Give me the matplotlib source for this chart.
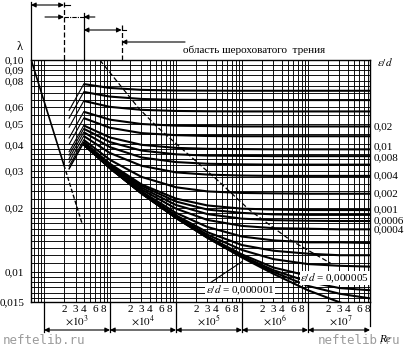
import matplotlib.pyplot as plt
from matplotlib import transforms
from matplotlib.ticker import NullLocator

plt.rcParams['font.family'] = ['Liberation Serif', 'DejaVu Serif']
plt.rcParams['mathtext.fontset'] = 'stix'

re_pts = [4e3, 1e4, 3e4, 1e5, 3e5, 1e6, 3e6, 1e7, 3e7, 9e7]

# friction factor lambda for each relative roughness e/d
lam_05 = [0.0770, 0.0738, 0.0723, 0.0718, 0.0717, 0.0716, 0.0716, 0.0716, 0.0716, 0.0716]
lam_04 = [0.0707, 0.0672, 0.0655, 0.0649, 0.0648, 0.0647, 0.0647, 0.0647, 0.0647, 0.0647]
lam_03 = [0.0641, 0.0601, 0.0582, 0.0575, 0.0573, 0.0572, 0.0572, 0.0572, 0.0572, 0.0572]
lam_02 = [0.0570, 0.0523, 0.0499, 0.0490, 0.0488, 0.0486, 0.0486, 0.0486, 0.0486, 0.0486]
lam_015 = [0.0532, 0.0479, 0.0452, 0.0442, 0.0438, 0.0437, 0.0437, 0.0437, 0.0437, 0.0437]
lam_01 = [0.0491, 0.0431, 0.0398, 0.0385, 0.0381, 0.0380, 0.0379, 0.0379, 0.0379, 0.0379]
lam_008 = [0.0474, 0.0410, 0.0374, 0.0359, 0.0354, 0.0353, 0.0352, 0.0352, 0.0352, 0.0352]
lam_006 = [0.0456, 0.0388, 0.0347, 0.0330, 0.0324, 0.0322, 0.0321, 0.0321, 0.0321, 0.0321]
lam_004 = [0.0438, 0.0364, 0.0317, 0.0295, 0.0288, 0.0285, 0.0284, 0.0284, 0.0284, 0.0284]
lam_002 = [0.0420, 0.0338, 0.0281, 0.0251, 0.0240, 0.0236, 0.0235, 0.0234, 0.0234, 0.0234]
lam_001 = [0.0410, 0.0324, 0.0259, 0.0222, 0.0206, 0.0199, 0.0197, 0.0196, 0.0196, 0.0196]
lam_0008 = [0.0407, 0.0321, 0.0255, 0.0215, 0.0197, 0.0190, 0.0187, 0.0186, 0.0186, 0.0186]
lam_0006 = [0.0405, 0.0318, 0.0250, 0.0207, 0.01875, 0.01785, 0.01756, 0.01745, 0.0174, 0.0174]
lam_0004 = [0.0402, 0.0315, 0.0245, 0.0199, 0.0176, 0.0165, 0.0161, 0.0160, 0.0159, 0.0159]
lam_0002 = [0.0401, 0.0312, 0.0240, 0.0190, 0.0163, 0.0147, 0.0141, 0.0138, 0.0138, 0.0137]
lam_0001 = [0.0400, 0.0311, 0.0237, 0.0185, 0.0154, 0.0134, 0.0126, 0.0122, 0.0120, 0.0120]
lam_00005 = [0.0400, 0.0310, 0.0236, 0.0183, 0.0150, 0.0127, 0.0115, 0.0109, 0.0107, 0.0106]
lam_00002 = [0.0399, 0.0309, 0.0235, 0.0181, 0.0147, 0.0121, 0.0105, 0.0096, 0.0092, 0.0091]
lam_00001 = [0.0399, 0.0309, 0.0235, 0.0180, 0.0146, 0.0119, 0.0102, 0.0090, 0.0084, 0.0082]
lam_000005 = [0.0399, 0.0309, 0.0235, 0.0180, 0.0145, 0.0118, 0.0100, 0.0086, 0.0079, 0.0075]
lam_000001 = [0.0399, 0.0309, 0.0235, 0.0180, 0.0145, 0.0117, 0.0098, 0.0082, 0.0072, 0.0065]

curves = [lam_05, lam_04, lam_03, lam_02, lam_015, lam_01, lam_008, lam_006, lam_004,
          lam_002, lam_001, lam_0008, lam_0006, lam_0004, lam_0002, lam_0001,
          lam_00005, lam_00002, lam_00001, lam_000005, lam_000001]

# transition strokes (Re 2400 -> 4000) for the rougher curves
trans_re = [2400, 4000]
trans_lo = [0.0579, 0.0532, 0.0482, 0.0429, 0.0400, 0.0369, 0.0356, 0.0343, 0.0329, 0.0316, 0.0308, 0.0306]

# laminar line 64/Re, solid then dashed continuation
lam_re = [635, 2000]
lam_lam = [0.1008, 0.0320]
lam_ext_re = [2000, 3800]
lam_ext_lam = [0.0320, 0.0168]

# boundary of the rough-friction zone
bnd_re = [7.0e3, 2.7e4, 5.2e4, 4.2e5, 1.3e6, 5.3e6, 2.2e7]
bnd_lam = [0.1, 0.0594, 0.0483, 0.0272, 0.0196, 0.0142, 0.0110]

# labels on the right (small vertical nudge in points so they don't collide)
side_labels = ['0,02', '0,01', '0,008', '0,004', '0,002', '0,001', '0,0006', '0,0004']
side_curves = [lam_02, lam_01, lam_008, lam_004, lam_002, lam_001, lam_0006, lam_0004]
side_nudge = [0, 2, -1, 0, 0, 0, 0, 0]

# y axis labels
y_ticks = [0.1, 0.09, 0.08, 0.06, 0.05, 0.04, 0.03, 0.02, 0.01, 0.00722]
y_labels = ['0,10', '0,09', '0,08', '0,06', '0,05', '0,04', '0,03', '0,02', '0,01', '0,015']

# grid
grid_re = [k * 10 ** p for p in range(2, 8) for k in range(1, 10)]
grid_lam = [0.0075, 0.008, 0.0085, 0.009, 0.0095, 0.01, 0.011, 0.012, 0.013, 0.014, 0.015,
            0.016, 0.017, 0.018, 0.019, 0.02, 0.022, 0.024, 0.026, 0.028, 0.03, 0.032,
            0.034, 0.036, 0.038, 0.04, 0.045, 0.05, 0.055, 0.06, 0.065, 0.07, 0.075,
            0.08, 0.085, 0.09, 0.095]

decades = [3, 4, 5, 6, 7]
sub_ticks = [2, 3, 4, 6, 8]

fig = plt.figure(figsize=(4.06, 3.52), dpi=100)
ax = fig.add_axes([31 / 406, 1 - 302 / 352, 339 / 406, 242 / 352])
ax.set_xscale('log')
ax.set_yscale('log')
xmin, xmax = 635, 8.7e7
ax.set_xlim(xmin, xmax)
ax.set_ylim(0.00722, 0.1)

for g in grid_re:
    ax.axvline(g, color='k', lw=0.65)
for g in grid_lam:
    ax.axhline(g, color='k', lw=0.65)

for c in curves:
    ax.plot(re_pts, c, color='k', lw=1.5, solid_capstyle='butt')
for lo, c in zip(trans_lo, curves):
    ax.plot(trans_re, [lo, c[0]], color='k', lw=0.8)

ax.plot(lam_re, lam_lam, color='k', lw=1.2)
ax.plot(lam_ext_re, lam_ext_lam, color='k', lw=1.0, ls=(0, (3, 1.5)))
ax.plot(bnd_re, bnd_lam, color='k', lw=0.9, ls=(0, (4, 2)))

ax.xaxis.set_minor_locator(NullLocator())
ax.yaxis.set_minor_locator(NullLocator())
ax.set_xticks([])
ax.set_yticks(y_ticks, y_labels, fontsize=8)
ax.tick_params(axis='y', length=0, pad=5)
for s in ax.spines.values():
    s.set_linewidth(1.0)

# right side e/d labels
side_tr = transforms.blended_transform_factory(ax.transAxes, ax.transData)
for lab, c, dy in zip(side_labels, side_curves, side_nudge):
    ax.annotate(lab, xy=(1.012, c[-1]), xycoords=side_tr, xytext=(0, dy),
                textcoords='offset points', fontsize=8, va='center', ha='left',
                annotation_clip=False)
ax.text(1.02, 0.098, r'$\it{\varepsilon/d}$', transform=side_tr, fontsize=8, va='center', ha='left')

ax.text(8.4e7, 0.00937, r'$\it{\varepsilon/d}$ = 0,000005', fontsize=8, ha='right', va='center',
        bbox=dict(facecolor='white', edgecolor='none', pad=0.6))
ax.annotate(r'$\it{\varepsilon/d}$ = 0,000001', xy=(1.0e6, 0.0112), xytext=(9.3e5, 0.0082),
            fontsize=8, ha='center', va='center',
            bbox=dict(facecolor='white', edgecolor='none', pad=0.6),
            arrowprops=dict(arrowstyle='-', color='k', lw=0.8, relpos=(0.05, 1.0), shrinkA=0, shrinkB=0))

# annotations above the plot
tr = transforms.blended_transform_factory(ax.transData, ax.transAxes)


def ay(py):
    return (302 - py) / 242


def vline(x, y0, y1, ls='-'):
    ax.plot([x, x], [ay(y0), ay(y1)], color='k', lw=0.9, ls=ls, transform=tr, clip_on=False)


def arrow(x0, x1, y, style):
    ax.annotate('', xy=(x1, ay(y)), xytext=(x0, ay(y)), xycoords=tr, textcoords=tr,
                arrowprops=dict(arrowstyle=style, color='k', lw=0.8, mutation_scale=7,
                                shrinkA=0, shrinkB=0), annotation_clip=False)


def hline(x0, x1, y, ls='-'):
    ax.plot([x0, x1], [ay(y), ay(y)], color='k', lw=0.8, ls=ls, transform=tr, clip_on=False)


vline(xmin, 2, 60)
vline(2000, 2, 60, ls=(0, (4, 2)))
vline(4000, 13, 60)
vline(15000, 25, 60, ls=(0, (4, 2)))

arrow(xmin, 2000, 5, '<|-|>')
hline(2000, 2480, 5)
arrow(1035, 2000, 17, '-|>')
hline(2000, 4000, 17, ls=(0, (4, 1, 1, 1)))
arrow(5900, 4000, 17, '-|>')
arrow(4000, 15000, 30, '<|-|>')
hline(15000, 17500, 30)
arrow(1.37e5, 15000, 42, '-|>')
ax.text(1.28e5, ay(50), 'область шероховатого  трения', transform=tr, fontsize=8,
        ha='left', va='center')
fig.text(20 / 406, 1 - 47 / 352, 'λ', fontsize=9, ha='center', va='center')

# decade boxes under the plot
for k in decades:
    lo = 10 ** k
    hi = min(10 ** (k + 1), xmax)
    vline(lo, 302, 332)
    arrow(lo, hi, 330, '<|-|>')
    for m in sub_ticks:
        ax.text(m * lo, ay(309), str(m), transform=tr, fontsize=8, ha='center', va='center')
    ax.text(10 ** (k + 0.5), ay(321), r'$\times10^{%d}$' % k, transform=tr, fontsize=8,
            ha='center', va='center')
vline(xmax, 302, 326)

fig.text(385 / 406, 1 - 339 / 352, 'Re', fontsize=8, style='italic', ha='center', va='center')
fig.text(3 / 406, 1 - 341 / 352, 'neftelib.ru', fontsize=9, color='#9c9c9c',
         family='DejaVu Sans Mono', ha='left', va='center')
fig.text(318 / 406, 1 - 341 / 352, 'neftelib.ru', fontsize=9, color='#9c9c9c',
         family='DejaVu Sans Mono', ha='left', va='center')

fig.savefig('out.png', dpi=100)
